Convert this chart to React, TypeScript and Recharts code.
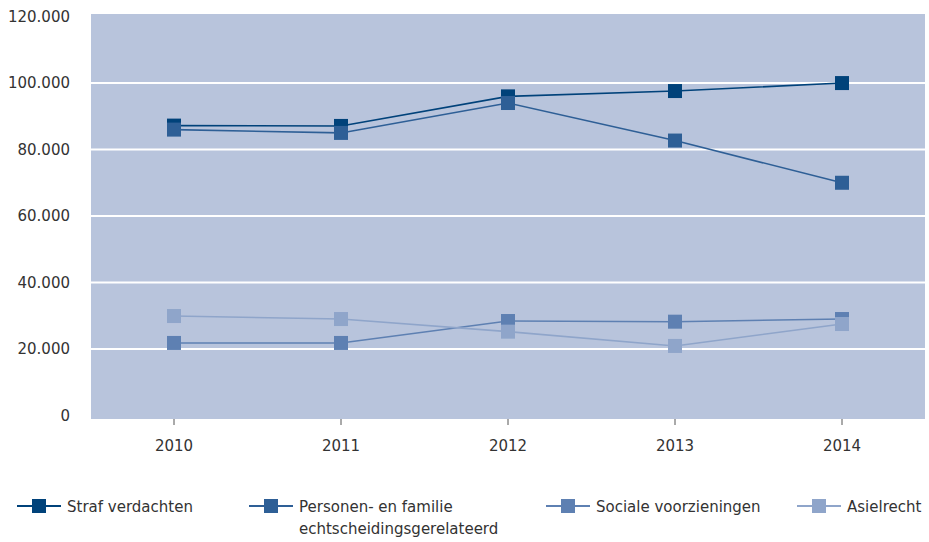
import { CartesianGrid, Legend, Line, LineChart, XAxis, YAxis } from "recharts";

const years = ["2010", "2011", "2012", "2013", "2014"];
const strafVerdachten = [87200, 87100, 96000, 97600, 100000];
const personenFamilie = [86000, 85000, 94000, 82700, 70000];
const socialeVoorzieningen = [21800, 21800, 28400, 28200, 29000];
const asielrecht = [29900, 29000, 25200, 20900, 27500];
const yTicks = [0, 20000, 40000, 60000, 80000, 100000, 120000];

const series = [
  { key: "straf", name: "Straf verdachten", color: "#00427A", values: strafVerdachten },
  { key: "personen", name: "Personen- en familie echtscheidingsgerelateerd", color: "#2E5F96", values: personenFamilie },
  { key: "sociale", name: "Sociale voorzieningen", color: "#5E80B2", values: socialeVoorzieningen },
  { key: "asiel", name: "Asielrecht", color: "#8FA5CA", values: asielrecht },
];

const data = years.map((year, i) => {
  const row: Record<string, any> = { year };
  series.forEach((s) => (row[s.key] = s.values[i]));
  return row;
});

const FONT = "'DejaVu Sans', Verdana, sans-serif";
const TEXT = "#333333";

const fmt = (v: number) => String(v).replace(/\B(?=(\d{3})+(?!\d))/g, ".");

const squareDot = (color: string) => (props: any) => {
  const { cx, cy, index } = props;
  if (cx == null || cy == null) return <g key={index} />;
  return <rect key={index} x={cx - 7} y={cy - 7} width={14} height={14} fill={color} />;
};

// legend slots (px widths) so items line up like the original
const legendWidths = [232, 297, 251, 120];

function LegendContent() {
  return (
    <div style={{ display: "flex", alignItems: "flex-start", paddingLeft: 17, marginTop: 12, fontFamily: FONT, fontSize: 15, color: TEXT }}>
      {series.map((s, i) => (
        <div key={s.key} style={{ width: legendWidths[i], display: "flex", alignItems: "flex-start" }}>
          <svg width={44} height={20} style={{ flex: "none" }}>
            <line x1={0} y1={10} x2={44} y2={10} stroke={s.color} strokeWidth={2} />
            <rect x={15} y={3} width={14} height={14} fill={s.color} />
          </svg>
          <span style={{ marginLeft: 6, maxWidth: 230, lineHeight: "22px", textAlign: "left" }}>{s.name}</span>
        </div>
      ))}
    </div>
  );
}

export default function App() {
  return (
    <div style={{ position: "absolute", left: 0, top: 0, background: "#fff" }}>
      <LineChart width={929} height={542} data={data} margin={{ top: 14, right: 4, bottom: 0, left: 0 }}>
        <CartesianGrid
          vertical={false}
          fill="#B8C4DC"
          fillOpacity={1}
          stroke="#ffffff"
          strokeWidth={2}
          horizontalValues={[20000, 40000, 60000, 80000, 100000]}
        />
        <XAxis
          dataKey="year"
          axisLine={false}
          tickLine={{ stroke: "#555" }}
          tickSize={6}
          tickMargin={15}
          height={123 - 58}
          padding={{ left: 83, right: 83 }}
          tick={{ fill: TEXT, fontSize: 15, fontFamily: FONT }}
        />
        <YAxis
          domain={[-1083, 120782]}
          ticks={yTicks}
          tickFormatter={fmt}
          axisLine={false}
          tickLine={false}
          width={91}
          tickMargin={15}
          tick={{ fill: TEXT, fontSize: 15, fontFamily: FONT }}
          allowDataOverflow
        />
        <Legend verticalAlign="bottom" align="left" height={58} content={<LegendContent />} />
        {series.map((s) => (
          <Line
            key={s.key}
            type="linear"
            dataKey={s.key}
            name={s.name}
            stroke={s.color}
            strokeWidth={1.6}
            dot={squareDot(s.color)}
            activeDot={false}
            isAnimationActive={false}
          />
        ))}
      </LineChart>
    </div>
  );
}
